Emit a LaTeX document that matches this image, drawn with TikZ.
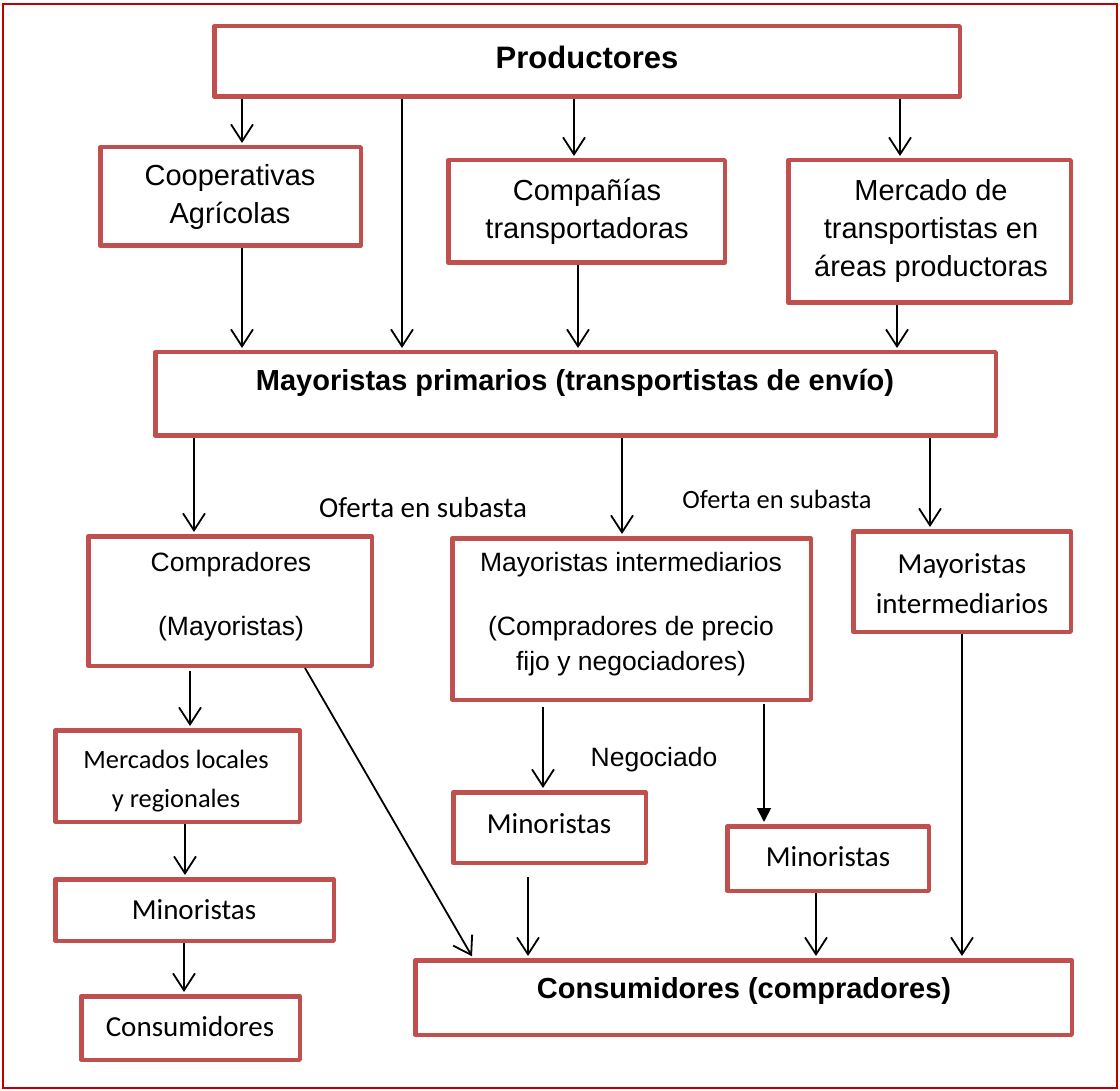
\documentclass[tikz,border=0pt]{standalone}
\usepackage{fontspec}
\setmainfont{Liberation Sans}
\newfontfamily\calib{Carlito}
\usetikzlibrary{arrows.meta}
\definecolor{boxred}{HTML}{C0504D}
\definecolor{framered}{HTML}{C00000}
\newcommand\rbox[5]{\node[box,minimum width={#4-#2-4.5},minimum height={#5-#3-4.5}] (#1) at ({(#2+#4)/2},{(#3+#5)/2}) {};}
\begin{document}
\begin{tikzpicture}[x=1pt,y=-1pt,
  box/.style={draw=boxred,line width=4.5pt,inner sep=0pt,line join=round},
  con/.style={line width=1.8pt,shorten >=2pt,-{Straight Barb[length=17pt,width=22pt]}},
  fcon/.style={line width=1.8pt,shorten >=2pt,-{Triangle[length=14pt,width=14pt]}},
  ar/.style={align=center,inner sep=0pt,font=\fontsize{29}{38}\selectfont},
  arb/.style={align=center,inner sep=0pt,font=\bfseries\fontsize{29}{38}\selectfont},
  arbig/.style={align=center,inner sep=0pt,font=\bfseries\fontsize{31}{38}\selectfont},
  ars/.style={align=center,inner sep=0pt,font=\fontsize{26.5}{35}\selectfont},
  cal/.style={align=center,inner sep=0pt,font=\calib\fontsize{29}{40}\selectfont},
  cals/.style={align=center,inner sep=0pt,font=\calib\fontsize{26.4}{39}\selectfont}
]
\useasboundingbox (0,0) rectangle (1120,1091);
\draw[framered,line width=2.5pt] (3,4) rectangle (1117,1088);

% boxes
\rbox{prod}{212}{24}{962}{99}
\rbox{coop}{98}{145}{363}{248}
\rbox{comp}{446}{158}{727}{265}
\rbox{merc}{786}{158}{1073}{305}
\rbox{mp}{153}{350}{998}{438}
\rbox{compr}{86}{534}{374}{668}
\rbox{mi}{450}{536}{813}{702}
\rbox{rmi}{851}{529}{1073}{634}
\rbox{mloc}{53}{728}{302}{824}
\rbox{minl}{53}{877}{336}{943}
\rbox{consl}{79}{994}{302}{1062}
\rbox{minm}{451}{790}{648}{865}
\rbox{minr}{725}{824}{931}{893}
\rbox{cc}{413}{958}{1074}{1037}

% texts
\node[arbig] (tprod) at (587,57) {Productores};
\node[ar] (tcoop) at (230,197) {Cooperativas\\Agrícolas};
\node[ar] (tcomp) at (587,212) {Compañías\\transportadoras};
\node[ar] (tmerc) at (931,231) {Mercado de\\transportistas en\\áreas productoras};
\node[arb] (tmp) at (575,383) {Mayoristas primarios (transportistas de envío)};
\node[ars] (tcompr) at (231,597) {Compradores\\[29pt](Mayoristas)};
\node[ars] (tmi) at (631,614) {Mayoristas intermediarios\\[29pt](Compradores de precio\\fijo y negociadores)};
\node[cal] (trmi) at (962,584) {Mayoristas\\intermediarios};
\node[cal] (tof1) at (423,508) {Oferta en subasta};
\node[cals] (tof2) at (777,499) {Oferta en subasta};
\node[cals] (tmloc) at (176,781) {Mercados locales\\y regionales};
\node[cal] (tminl) at (194,910) {Minoristas};
\node[cal] (tconsl) at (190,1027) {Consumidores};
\node[cal] (tminm) at (549,824) {Minoristas};
\node[cal] (tminr) at (828,857) {Minoristas};
\node[ars] (tneg) at (654,760) {Negociado};
\node[arb] (tcc) at (744,991) {Consumidores (compradores)};

% connectors
\draw[con] (242,0 |- prod.south) -- (242,0 |- coop.north);
\draw[con] (402,0 |- prod.south) -- (402,0 |- mp.north);
\draw[con] (574,0 |- prod.south) -- (574,0 |- comp.north);
\draw[con] (900,0 |- prod.south) -- (900,0 |- merc.north);
\draw[con] (242,0 |- coop.south) -- (242,0 |- mp.north);
\draw[con] (578,0 |- comp.south) -- (578,0 |- mp.north);
\draw[con] (897,0 |- merc.south) -- (897,0 |- mp.north);
\draw[con] (194,0 |- mp.south) -- (194,0 |- compr.north);
\draw[con] (622,0 |- mp.south) -- (622,0 |- mi.north);
\draw[con] (930,0 |- mp.south) -- (930,0 |- rmi.north);
\draw[con,shorten <=3pt] (190,0 |- compr.south) -- (190,0 |- mloc.north);
\draw[con] (185,0 |- mloc.south) -- (185,0 |- minl.north);
\draw[con] (184,0 |- minl.south) -- (184,0 |- consl.north);
\draw[con] (305,0 |- compr.south) -- (473,0 |- cc.north);
\draw[con,shorten <=5pt] (543,0 |- mi.south) -- (543,0 |- minm.north);
\draw[fcon,shorten <=2pt] (764,0 |- mi.south) -- (764,0 |- minr.north);
\draw[con,shorten <=12pt] (528,0 |- minm.south) -- (528,0 |- cc.north);
\draw[con] (816,0 |- minr.south) -- (816,0 |- cc.north);
\draw[con] (962,0 |- rmi.south) -- (962,0 |- cc.north);
\end{tikzpicture}
\end{document}
